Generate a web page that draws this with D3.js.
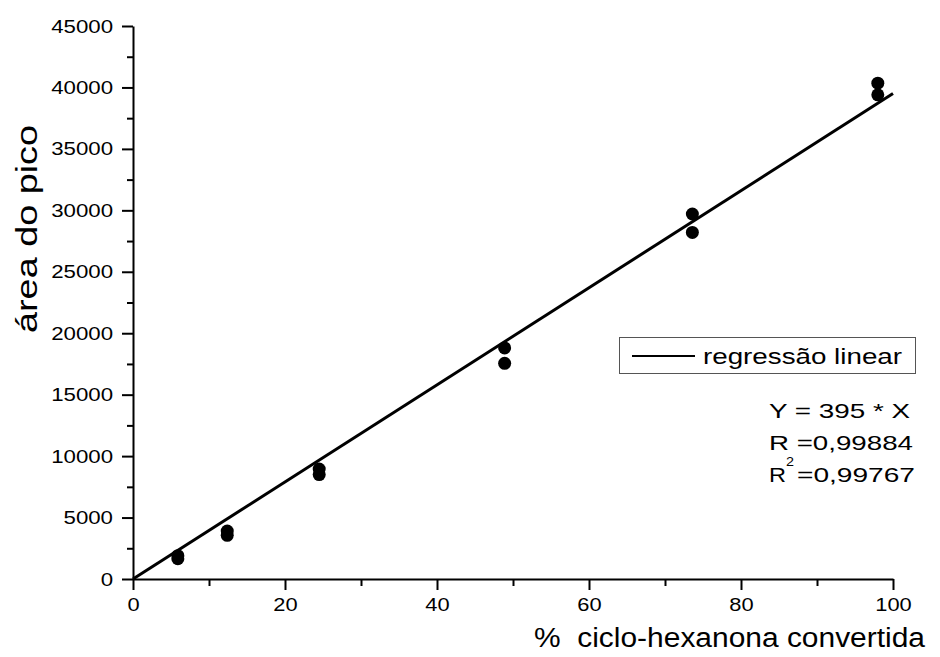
<!DOCTYPE html>
<html>
<head>
<meta charset="utf-8">
<script src="https://cdn.jsdelivr.net/npm/d3@7"></script>
<style>
  body { margin: 0; background: #fff; }
  text { font-family: "Liberation Sans", Arial, sans-serif; fill: #000; }
</style>
</head>
<body>
<script>
d3.select(window).on('load', init);

// measured points (x = % converted, y = peak area)
var convX = [5.9, 5.9, 12.4, 12.4, 24.5, 24.5, 48.9, 48.9, 73.6, 73.6, 98.0, 98.0];
var areaY = [1900, 1650, 3900, 3550, 8950, 8500, 18800, 17550, 29700, 28200, 40350, 39400];

// regression Y = 395 * X
var slope = 395;
var fitX = [0, 100];

var xTicks = [0, 20, 40, 60, 80, 100];
var xMinor = [10, 30, 50, 70, 90];
var yTicks = [0, 5000, 10000, 15000, 20000, 25000, 30000, 35000, 40000, 45000];
var yMinor = [2500, 7500, 12500, 17500, 22500, 27500, 32500, 37500, 42500];

var xTitle = '%  ciclo-hexanona convertida';
var yTitle = 'área do pico';
var legendLabel = 'regressão linear';
var statLines = ['Y = 395 * X', 'R =0,99884', '=0,99767'];

function init()
{
    var w = 940;
    var h = 657;

    var xScale = d3.scaleLinear().domain([0, 100]).range([133, 893]);
    var yScale = d3.scaleLinear().domain([0, 45000]).range([579, 26]);

    var svg = d3.select('body')
        .append('svg')
        .attr('width', w)
        .attr('height', h);

    // the reference text is wider than plain Arial, so stretch it
    function stretch(sel, width)
    {
        sel.attr('textLength', width).attr('lengthAdjust', 'spacingAndGlyphs');
    }
    function stretchBy(sel, k)
    {
        sel.each(function() {
            var len = this.getComputedTextLength();
            d3.select(this).attr('textLength', len * k).attr('lengthAdjust', 'spacingAndGlyphs');
        });
    }

    // minor ticks
    svg.append('g')
        .attr('transform', 'translate(0,579)')
        .call(d3.axisBottom(xScale).tickValues(xMinor).tickSize(7).tickFormat(''))
        .call(function(g) { g.select('.domain').remove(); })
        .selectAll('line').attr('stroke-width', 2);

    svg.append('g')
        .attr('transform', 'translate(133,0)')
        .call(d3.axisLeft(yScale).tickValues(yMinor).tickSize(6).tickFormat(''))
        .call(function(g) { g.select('.domain').remove(); })
        .selectAll('line').attr('stroke-width', 2);

    // major axes
    var xAxis = svg.append('g')
        .attr('transform', 'translate(0,579)')
        .call(d3.axisBottom(xScale).tickValues(xTicks).tickFormat(d3.format('d'))
            .tickSize(11).tickSizeOuter(0).tickPadding(4));
    xAxis.select('.domain').attr('stroke-width', 2);
    xAxis.selectAll('line').attr('stroke-width', 2);
    xAxis.selectAll('text').attr('font-size', 19).attr('font-family', null).attr('dy', '0.9em');
    stretchBy(xAxis.selectAll('text'), 1.15);

    var yAxis = svg.append('g')
        .attr('transform', 'translate(133,0)')
        .call(d3.axisLeft(yScale).tickValues(yTicks).tickFormat(d3.format('d'))
            .tickSize(11).tickSizeOuter(0).tickPadding(9));
    yAxis.select('.domain').attr('stroke-width', 2);
    yAxis.selectAll('line').attr('stroke-width', 2);
    yAxis.selectAll('text').attr('font-size', 19).attr('font-family', null);
    stretchBy(yAxis.selectAll('text'), 1.17);

    // axis titles
    var xt = svg.append('text')
        .attr('x', 534)
        .attr('y', 647)
        .attr('font-size', 27)
        .attr('xml:space', 'preserve')
        .style('white-space', 'pre')
        .text(xTitle);
    stretch(xt, 391);

    var yt = svg.append('text')
        .attr('transform', 'translate(37,229) rotate(-90)')
        .attr('text-anchor', 'middle')
        .attr('font-size', 29)
        .text(yTitle);
    stretch(yt, 208);

    // regression line
    var line = d3.line()
        .x(function(d) { return xScale(d); })
        .y(function(d) { return yScale(slope * d); });

    svg.append('path')
        .datum(fitX)
        .attr('d', line)
        .attr('fill', 'none')
        .attr('stroke', '#000')
        .attr('stroke-width', 3);

    // points
    svg.selectAll('circle.pt')
        .data(convX)
        .enter()
        .append('circle')
        .attr('class', 'pt')
        .attr('cx', function(d) { return xScale(d); })
        .attr('cy', function(d, i) { return yScale(areaY[i]); })
        .attr('r', 6.5)
        .attr('fill', '#000');

    // legend
    svg.append('rect')
        .attr('x', 619.5)
        .attr('y', 337.5)
        .attr('width', 296)
        .attr('height', 36)
        .attr('fill', '#fff')
        .attr('stroke', '#555')
        .attr('stroke-width', 1);

    svg.append('line')
        .attr('x1', 632).attr('x2', 695)
        .attr('y1', 356).attr('y2', 356)
        .attr('stroke', '#000')
        .attr('stroke-width', 2);

    var lt = svg.append('text')
        .attr('x', 703)
        .attr('y', 364)
        .attr('font-size', 22)
        .text(legendLabel);
    stretch(lt, 199);

    // statistics text
    var s1 = svg.append('text')
        .attr('x', 769).attr('y', 418)
        .attr('font-size', 21)
        .text(statLines[0]);
    stretch(s1, 141);

    var s2 = svg.append('text')
        .attr('x', 769).attr('y', 450)
        .attr('font-size', 21)
        .text(statLines[1]);
    stretch(s2, 144);

    var r2 = svg.append('text')
        .attr('x', 769).attr('y', 482)
        .attr('font-size', 21)
        .text('R');
    stretch(r2, 17);

    var sup = svg.append('text')
        .attr('x', 786).attr('y', 466)
        .attr('font-size', 12)
        .text('2');
    stretch(sup, 8);

    var s3 = svg.append('text')
        .attr('x', 797).attr('y', 482)
        .attr('font-size', 21)
        .text(statLines[2]);
    stretch(s3, 118);
}
</script>
</body>
</html>
